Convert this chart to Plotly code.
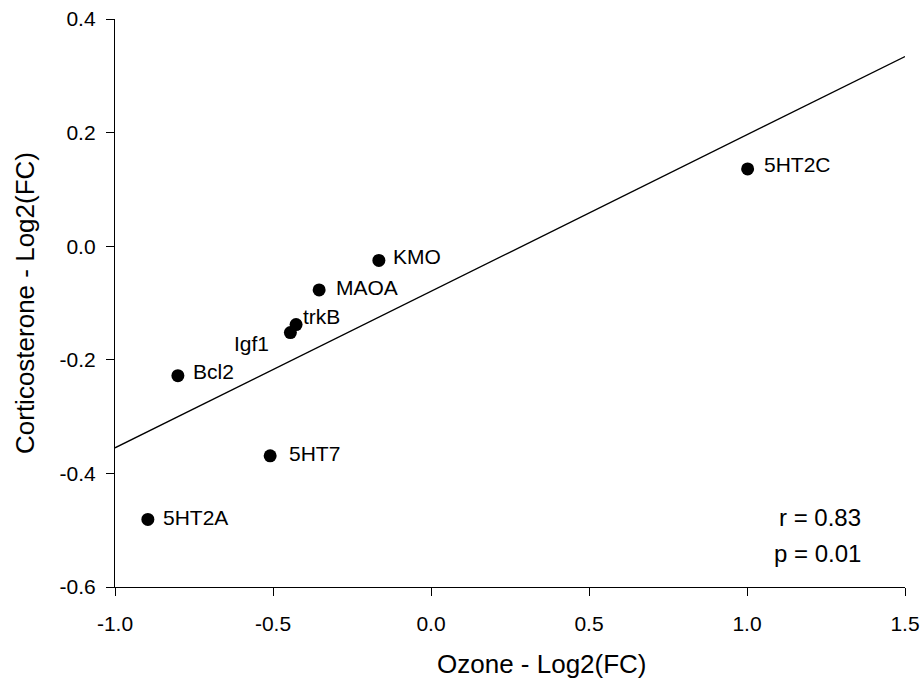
import plotly.graph_objects as go

genes = ["5HT2C", "KMO", "MAOA", "trkB", "Igf1", "Bcl2", "5HT7", "5HT2A"]
ozone = [1.002, -0.165, -0.354, -0.427, -0.445, -0.801, -0.509, -0.896]
cort = [0.136, -0.025, -0.077, -0.138, -0.152, -0.228, -0.369, -0.481]

fit_x = [-1.0, 1.5]
fit_y = [-0.355, 0.334]

x_ticks = [-1.0, -0.5, 0.0, 0.5, 1.0, 1.5]
y_ticks = [-0.6, -0.4, -0.2, 0.0, 0.2, 0.4]

x_title = "Ozone - Log2(FC)"
y_title = "Corticosterone - Log2(FC)"
stats = ["r = 0.83", "p = 0.01"]

# label placement (pixel shifts) per gene
label_dx = {"5HT2C": 14, "KMO": 12, "MAOA": 15, "trkB": 5, "Igf1": -19, "Bcl2": 13, "5HT7": 17, "5HT2A": 13}
label_dy = {"5HT2C": 4, "KMO": 4, "MAOA": 2, "trkB": 8, "Igf1": -11, "Bcl2": 4, "5HT7": 2, "5HT2A": 2}
label_anchor = {"Igf1": "right"}

FONT = "Liberation Sans, Arial, sans-serif"

W, H = 922, 682
L, R, T, B = 115, 17, 19, 95
pw, ph = W - L - R, H - T - B


def px2paper(px, py):
    return (px - L) / pw, 1 - (py - T) / ph


fig = go.Figure()
fig.add_trace(go.Scatter(x=fit_x, y=fit_y, mode="lines",
                         line=dict(color="black", width=1.3), hoverinfo="skip"))
fig.add_trace(go.Scatter(x=ozone, y=cort, mode="markers",
                         marker=dict(color="black", size=13), text=genes))

annotations = []
for g, xv, yv in zip(genes, ozone, cort):
    annotations.append(dict(
        x=xv, y=yv, xref="x", yref="y", text=g, showarrow=False,
        xanchor=label_anchor.get(g, "left"), yanchor="middle",
        xshift=label_dx[g], yshift=label_dy[g],
        font=dict(family=FONT, size=21, color="black")))

for txt, (px, py) in zip(stats, [(863, 517), (863, 553)]):
    ax, ay = px2paper(px, py)
    annotations.append(dict(x=ax, y=ay, xref="paper", yref="paper", text=txt,
                            showarrow=False, xanchor="right", yanchor="middle",
                            font=dict(family="Liberation Sans Narrow, Arial Narrow, " + FONT,
                                      size=24, color="black")))

tx, ty = px2paper(542, 664)
annotations.append(dict(x=tx, y=ty, xref="paper", yref="paper", text=x_title,
                        showarrow=False, xanchor="center", yanchor="middle",
                        font=dict(family=FONT, size=26, color="black")))
tx, ty = px2paper(25, 303)
annotations.append(dict(x=tx, y=ty, xref="paper", yref="paper", text=y_title,
                        showarrow=False, xanchor="center", yanchor="middle", textangle=-90,
                        font=dict(family=FONT, size=26, color="black")))

fig.update_layout(
    width=W, height=H,
    margin=dict(l=L, r=R, t=T, b=B, autoexpand=False),
    paper_bgcolor="white", plot_bgcolor="white",
    showlegend=False,
    font=dict(family=FONT, color="black"),
    annotations=annotations,
)
fig.update_xaxes(range=[-1.0, 1.5], tickvals=x_ticks,
                 ticktext=[f"{v:.1f}" for v in x_ticks],
                 showgrid=False, zeroline=False, showline=True, linecolor="black", linewidth=1.3,
                 ticks="outside", ticklen=8, tickwidth=1.3, tickcolor="black",
                 ticklabelstandoff=10,
                 tickfont=dict(family=FONT, size=21, color="black"))
fig.update_yaxes(range=[-0.6, 0.4], tickvals=y_ticks,
                 ticktext=[f"{v:.1f}" for v in y_ticks],
                 showgrid=False, zeroline=False, showline=True, linecolor="black", linewidth=1.3,
                 ticks="outside", ticklen=8, tickwidth=1.3, tickcolor="black",
                 ticklabelstandoff=6,
                 tickfont=dict(family=FONT, size=21, color="black"))

fig.write_html("out.html", config={"displayModeBar": False},
               post_script="document.body.style.margin='0px';")
